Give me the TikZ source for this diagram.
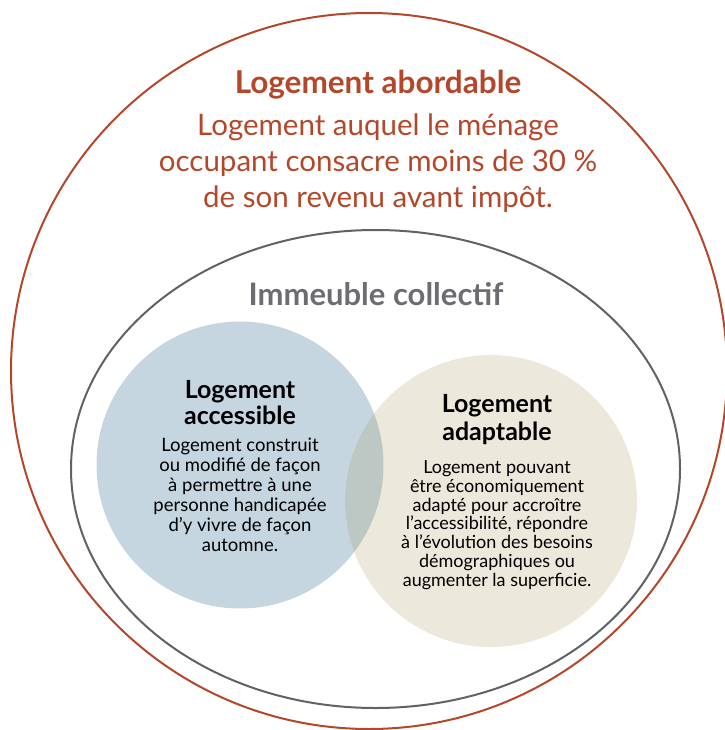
\documentclass[tikz,border=0pt]{standalone}
\usepackage{fontspec}
\setmainfont{Lato}
\usetikzlibrary{positioning, shapes.geometric}

\definecolor{rust}{HTML}{B4472A}
\definecolor{slate}{HTML}{5F6267}
\definecolor{ashgray}{HTML}{6C6D70}
\definecolor{paleblue}{HTML}{C5D6E1}
\definecolor{sand}{HTML}{ECE8DB}
\definecolor{mixed}{HTML}{BDC8C5}

\begin{document}
\begin{tikzpicture}[x=1pt,y=-1pt,node distance=2pt,
    headline/.style={font=\fontsize{31.5}{34}\selectfont\bfseries,text=rust,inner sep=0pt},
    lead/.style={font=\fontsize{29.5}{36}\selectfont,text=rust,align=center,inner sep=0pt},
    title/.style={font=\fontsize{25}{26}\selectfont\bfseries,align=center,inner sep=0pt},
    body/.style={align=center,inner sep=0pt}]

\useasboundingbox (0,0) rectangle (724,730);

% disques
\node[circle,fill=paleblue,minimum size=287pt] (access) at (240,465) {};
\node[circle,fill=sand,minimum size=292pt]     (adapt)  at (491,501) {};
\begin{scope}
  \clip (240,465) circle[radius=143.5pt];
  \fill[mixed] (491,501) circle[radius=146pt];
\end{scope}

% contours
\node[ellipse,draw=slate,line width=2pt,minimum width=609pt,minimum height=478pt] (immeuble) at (375.5,469) {};
\node[circle,draw=rust,line width=2pt,minimum size=716pt] (abord) at (369,371) {};

% textes
\node[headline] (abordT) at (378,85) {Logement abordable};
\node[lead] (abordD) [below=14pt of abordT] {Logement auquel le ménage\\occupant consacre moins de 30~\%\\de son revenu avant impôt.};

\node[font=\fontsize{31}{34}\selectfont\bfseries,text=ashgray] (immeubleT) at (376,294) {Immeuble collectif};

\node[title] (accessT) at (240,403) {Logement\\accessible};
\node[body,font=\fontsize{18.5}{20}\selectfont] (accessD) [below=12pt of accessT]
  {Logement construit\\ou modifié de façon\\à permettre à une\\personne handicapée\\d’y vivre de façon\\automne.};

\node[title,font=\fontsize{25}{28}\selectfont\bfseries] (adaptT) at (497,420) {Logement\\adaptable};
\node[body,font=\fontsize{18}{18.8}\selectfont] (adaptD) [below=15pt of adaptT]
  {Logement pouvant\\être économiquement\\adapté pour accroître\\l’accessibilité, répondre\\à l’évolution des besoins\\démographiques ou\\augmenter la superficie.};
\end{tikzpicture}
\end{document}
